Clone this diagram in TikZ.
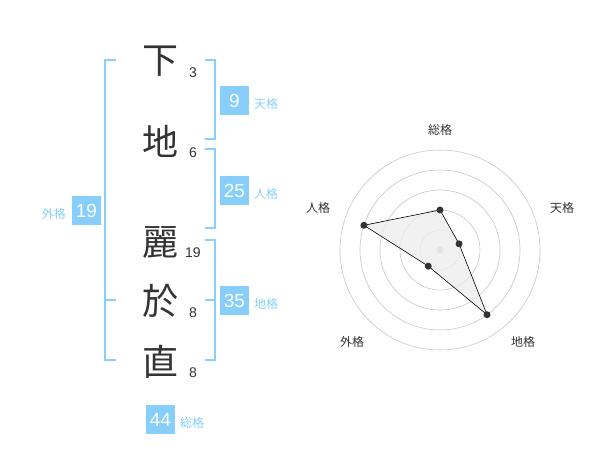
\documentclass[tikz,border=0pt]{standalone}
\usepackage{fontspec}
\setmainfont{Liberation Sans}
\newfontfamily\cjk{Noto Sans CJK JP}
\definecolor{kb}{HTML}{87CEFA}
\definecolor{ink}{HTML}{333333}
\begin{document}
\begin{tikzpicture}[x=1pt,y=-1pt,
 kanji/.style={font=\cjk\fontsize{36}{36}\selectfont, text=ink, inner sep=0},
 strokes/.style={font=\fontsize{14}{14}\selectfont, text=ink, inner sep=0},
 numbox/.style={fill=kb, text=white, minimum width=29pt, minimum height=29pt, inner sep=0, font=\fontsize{19}{19}\selectfont},
 kaku/.style={font=\cjk\fontsize{12}{12}\selectfont, text=kb, inner sep=0},
 brk/.style={draw=kb, line width=2pt},
 ring/.style={draw=black!22, line width=0.6pt},
 rlabel/.style={font=\cjk\fontsize{12}{12}\selectfont, text=ink, inner sep=0},
 pt/.style={circle, fill=ink, inner sep=0, minimum size=7pt}]
\useasboundingbox (0,0) rectangle (600,470);

% characters
\node[kanji] (k1) at (160,61) {下};
\node[kanji] (k2) at (160,141) {地};
\node[kanji] (k3) at (160,243) {麗};
\node[kanji] (k4) at (160,301) {於};
\node[kanji] (k5) at (160,362) {直};
\node[strokes] (s1) at (193,73) {3};
\node[strokes] (s2) at (193,153) {6};
\node[strokes] (s3) at (193,253) {19};
\node[strokes] (s4) at (193,313) {8};
\node[strokes] (s5) at (193,373) {8};

% brackets
\draw[brk] (116,60) -| (105,360) -- (116,360);
\draw[brk] (105,300) -- (116,300);
\draw[brk] (205,60) -| (215,139) -- (205,139);
\draw[brk] (205,149) -| (215,228) -- (205,228);
\draw[brk] (205,240) -| (215,360) -- (205,360);
\draw[brk] (205,300) -- (215,300);

% boxes
\node[numbox] (ten) at (234.5,100.5) {9};
\node[kaku, anchor=west] (tenl) at (254,104) {天格};
\node[numbox] (jin) at (234.5,190.5) {25};
\node[kaku, anchor=west] (jinl) at (254,194) {人格};
\node[numbox] (chi) at (234.5,300.5) {35};
\node[kaku, anchor=west] (chil) at (254,304) {地格};
\node[numbox] (gai) at (86.5,210.5) {19};
\node[kaku, anchor=east] (gail) at (66,214) {外格};
\node[numbox] (sou) at (160.5,419.5) {44};
\node[kaku, anchor=west] (soul) at (180,423) {総格};

% radar
\begin{scope}[shift={(440,250)}]
 \foreach \r in {20,40,60,80,100} \draw[ring] (0,0) circle[radius=\r];
 \fill[black!25] (0,0) circle[radius=3.5];
 \coordinate (p1) at (-90:40);
 \coordinate (p2) at (-18:20);
 \coordinate (p3) at (54:80);
 \coordinate (p4) at (126:20);
 \coordinate (p5) at (198:80);
 \filldraw[fill=black!7, fill opacity=0.8, draw=black, line width=0.6pt] (p1) -- (p2) -- (p3) -- (p4) -- (p5) -- cycle;
 \foreach \p in {p1,p2,p3,p4,p5} \node[pt] at (\p) {};
\end{scope}
\node[rlabel] (r1) at (440,130) {総格};
\node[rlabel] (r2) at (562,208) {天格};
\node[rlabel] (r3) at (523,342) {地格};
\node[rlabel] (r4) at (352,342) {外格};
\node[rlabel] (r5) at (318,208) {人格};
\end{tikzpicture}
\end{document}
